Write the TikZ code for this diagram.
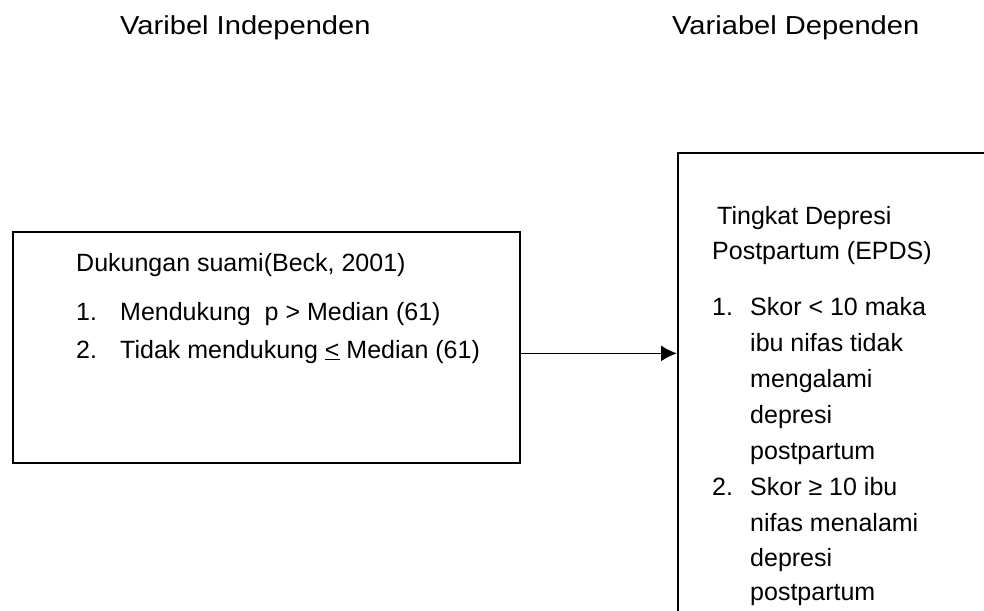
\documentclass[tikz,border=0pt]{standalone}
\usepackage{fontspec}
\setmainfont{Liberation Sans}
\newfontfamily\hurufjudul[FakeStretch=1.12]{Liberation Sans}
\usetikzlibrary{positioning}
\usetikzlibrary{arrows.meta}

\tikzset{
	kotak/.style={draw, line width=1.7pt, inner sep=0pt, anchor=north west},
	teks/.style={inner sep=0pt, anchor=base west, font=\fontsize{25}{30}\selectfont},
	judul/.style={inner sep=0pt, anchor=base west, font=\hurufjudul\fontsize{26}{31}\selectfont},
	panah/.style={line width=1.7pt, -{Latex[length=16pt,width=16pt]}}
}

\begin{document}
\begin{tikzpicture}[x=1pt,y=-1pt]
	
	\useasboundingbox (0,0) rectangle (984,610);
	\clip (0,0) rectangle (984,610);
	
	% judul kolom
	\node [judul] at (120,35) (jIndep) {Varibel Independen};
	\node [judul] at (672,35) (jDep) {Variabel Dependen};
	
	% kotak variabel
	\node [kotak, minimum width=507pt, minimum height=231pt] at (12,231) (kIndep) {};
	\node [kotak, minimum width=400pt, minimum height=520pt] at (677,152) (kDep) {};
	
	% isi kotak independen
	\node [teks] at (76,271) (dSuami) {Dukungan suami(Beck, 2001)};
	\node [teks] at (76,320) (n1) {1.}; \node [teks] at (120,320) (iDukung) {Mendukung\ \ p > Median (61)};
	\node [teks] at (76,358) (n2) {2.}; \node [teks] at (120,358) (iTidak) {Tidak mendukung \underline{<} Median (61)};
	
	% isi kotak dependen
	\node [teks] at (717,224) (tDepresi) {Tingkat Depresi};
	\node [teks] at (712,259) (tEPDS) {Postpartum (EPDS)};
	\node [teks] at (712,315) (m1) {1.}; \node [teks] at (750,315) (s1a) {Skor < 10 maka};
	\node [teks] at (750,351) (s1b) {ibu nifas tidak}; \node [teks] at (750,387) (s1c) {mengalami};
	\node [teks] at (750,423) (s1d) {depresi}; \node [teks] at (750,459) (s1e) {postpartum};
	\node [teks] at (712,495) (m2) {2.}; \node [teks] at (750,495) (s2a) {Skor ≥ 10 ibu};
	\node [teks] at (750,531) (s2b) {nifas menalami}; \node [teks] at (750,566) (s2c) {depresi};
	\node [teks] at (750,600) (s2d) {postpartum};
	
	\coordinate (pAwal) at ([yshift=-6pt]kIndep.east);
	\draw [panah] (pAwal) -- (kDep.west |- pAwal);
	
\end{tikzpicture}
\end{document}
